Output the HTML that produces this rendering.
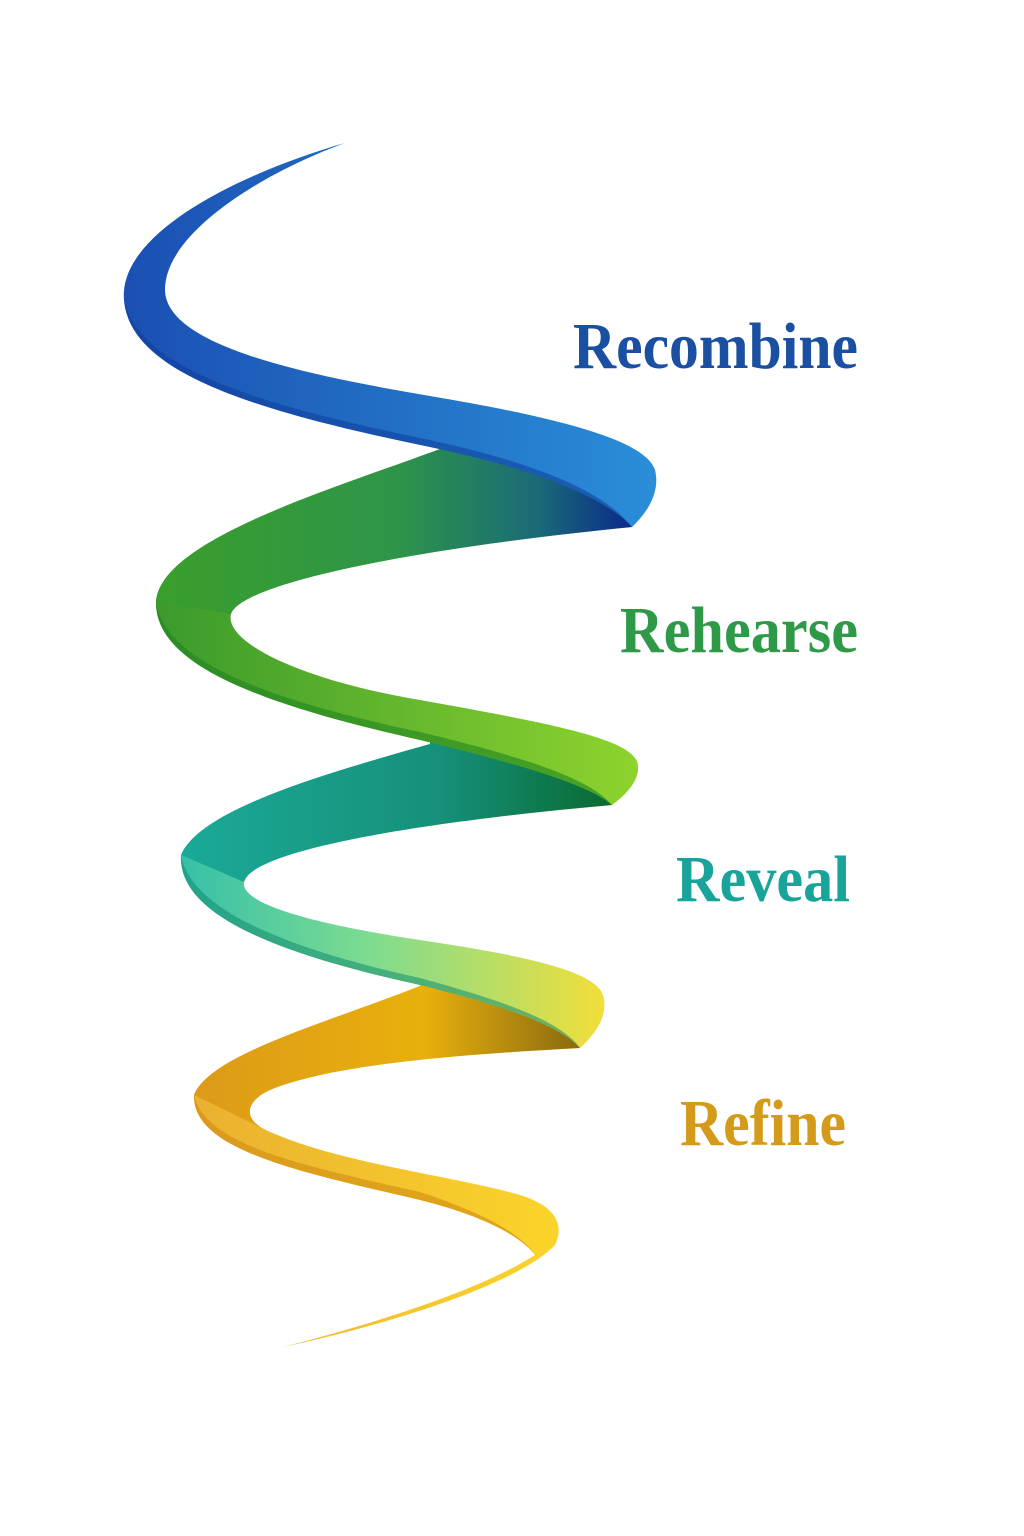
<!DOCTYPE html>
<html><head><meta charset="utf-8"><style>html,body{margin:0;padding:0;background:#fff}svg{display:block}</style></head>
<body>
<svg width="1024" height="1536" viewBox="0 0 1024 1536" xmlns="http://www.w3.org/2000/svg">
<defs>
<linearGradient id="gB" x1="120" y1="0" x2="660" y2="0" gradientUnits="userSpaceOnUse"><stop offset="0" stop-color="#1a4fb2"/><stop offset="1" stop-color="#2a8ed8"/></linearGradient>
<linearGradient id="gG" x1="155" y1="0" x2="640" y2="0" gradientUnits="userSpaceOnUse"><stop offset="0" stop-color="#3a9a2c"/><stop offset="1" stop-color="#8ed42e"/></linearGradient>
<linearGradient id="gGb" x1="160" y1="0" x2="632" y2="0" gradientUnits="userSpaceOnUse"><stop offset="0" stop-color="#3a9e2c"/><stop offset="0.5" stop-color="#2e9548"/><stop offset="0.8" stop-color="#1a6a78"/><stop offset="1" stop-color="#0a2a8a"/></linearGradient>
<linearGradient id="gT" x1="180" y1="0" x2="605" y2="0" gradientUnits="userSpaceOnUse"><stop offset="0" stop-color="#36c0a8"/><stop offset="0.45" stop-color="#7edc90"/><stop offset="1" stop-color="#f2de3a"/></linearGradient>
<linearGradient id="gTb" x1="180" y1="0" x2="612" y2="0" gradientUnits="userSpaceOnUse"><stop offset="0" stop-color="#1aaa98"/><stop offset="0.6" stop-color="#16907a"/><stop offset="1" stop-color="#0a6a32"/></linearGradient>
<linearGradient id="gO" x1="190" y1="0" x2="560" y2="0" gradientUnits="userSpaceOnUse"><stop offset="0" stop-color="#eab030"/><stop offset="1" stop-color="#fbd42a"/></linearGradient>
<linearGradient id="gOb" x1="190" y1="0" x2="580" y2="0" gradientUnits="userSpaceOnUse"><stop offset="0" stop-color="#dc9a18"/><stop offset="0.6" stop-color="#e8b00c"/><stop offset="1" stop-color="#8a6a10"/></linearGradient>
</defs>

<!-- orange -->
<path fill="url(#gO)" d="M420,986 C320,1025 210,1055 194,1095 C192,1150 300,1172 420,1200 C480,1215 520,1235 535,1255 C480,1290 380,1322 283,1347 C400,1322 520,1282 555,1245 C566,1222 552,1205 520,1195 C450,1175 330,1162 262,1128 C242,1116 248,1100 270,1090 C330,1065 450,1055 580,1048 L560,1012 L500,995 L420,980 Z"/>
<path fill="url(#gOb)" d="M420,986 C320,1025 210,1055 194,1095 L262,1128 C242,1116 248,1100 270,1090 C330,1065 450,1055 580,1048 L560,1012 L500,995 L420,980 Z"/>
<path fill="#d08a10" opacity="0.6" d="M194,1095 C192,1150 300,1172 420,1200 C480,1215 520,1235 535,1255 C520,1232 480,1212 420,1192 C300,1165 205,1145 194,1095 Z"/>

<!-- teal -->
<path fill="url(#gT)" d="M430,744 C320,775 200,810 181,855 C178,910 260,950 420,985 C500,1005 560,1025 580,1048 C600,1030 608,1012 603,995 C595,970 520,955 420,940 C320,925 240,905 244,882 C252,850 420,822 612,805 L590,768 L520,745 L430,736 Z"/>
<path fill="url(#gTb)" d="M430,744 C320,775 200,810 181,855 L244,882 C252,850 420,822 612,805 L590,768 L520,745 L430,736 Z"/>
<path fill="#138a70" opacity="0.55" d="M181,855 C178,910 260,950 420,985 C500,1005 560,1025 580,1048 C560,1020 500,1000 420,978 C270,945 190,905 181,855 Z"/>

<!-- green -->
<path fill="url(#gG)" d="M440,449 C330,490 160,540 156,602 C155,662 250,702 420,740 C520,764 590,785 612,805 C626,795 640,780 638,765 C635,740 560,725 420,700 C300,680 224,642 231,614 C240,585 400,550 632,527 L605,484 L530,458 L440,440 Z"/>
<path fill="url(#gGb)" d="M440,449 C330,490 160,540 156,602 L231,614 C240,585 400,550 632,527 L605,484 L530,458 L440,440 Z"/>
<path fill="#1f8420" opacity="0.6" d="M156,602 C155,662 250,702 420,740 C520,764 590,785 612,805 C590,778 520,756 420,732 C260,698 165,660 156,602 Z"/>

<!-- blue -->
<path fill="url(#gB)" d="M345,143 C250,170 118,230 124,300 C130,372 250,410 430,447 C520,466 600,492 632,527 C650,510 660,490 655,470 C645,440 560,418 430,396 C300,374 166,345 165,290 C165,230 270,170 345,143 Z"/>
<path fill="#0e3d9a" opacity="0.55" d="M124,300 C130,372 250,410 430,447 C520,466 600,492 632,527 C600,486 520,460 430,440 C260,405 140,370 124,300 Z"/>

<g font-family="'Liberation Serif', serif" font-weight="bold" font-size="66">
<text x="573" y="368" textLength="285" lengthAdjust="spacingAndGlyphs" fill="#1a4fa2">Recombine</text>
<text x="620" y="652" textLength="238" lengthAdjust="spacingAndGlyphs" fill="#2e9a48">Rehearse</text>
<text x="676" y="901" textLength="174" lengthAdjust="spacingAndGlyphs" fill="#18a49a">Reveal</text>
<text x="680" y="1145" textLength="166" lengthAdjust="spacingAndGlyphs" fill="#d49a1a">Refine</text>
</g>
</svg>
</body></html>
